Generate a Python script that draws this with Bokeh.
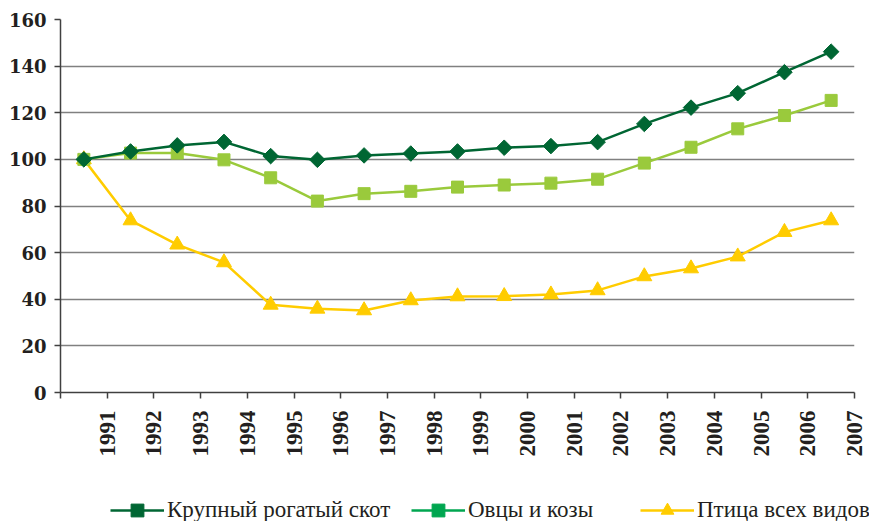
import math
from bokeh.plotting import figure
from bokeh.layouts import column, row
from bokeh.models import FixedTicker, Legend, LegendItem, Range1d
from bokeh.embed import file_html
from bokeh.resources import INLINE

years = [str(y) for y in range(1991, 2008)]
cattle = [100, 103.4, 106, 107.5, 101.4, 99.8, 101.7, 102.5, 103.4, 105, 105.7, 107.4, 115.2, 122.2, 128.4, 137.4, 146.2]
sheep = [100, 102.7, 102.7, 99.8, 92.1, 82.1, 85.3, 86.3, 88.1, 89.0, 89.8, 91.5, 98.4, 105.2, 113.1, 118.8, 125.3]
poultry = [100, 73.8, 63.4, 55.8, 37.6, 35.9, 35.2, 39.5, 41.2, 41.3, 42.0, 43.8, 49.8, 53.2, 58.3, 68.8, 73.8]
series_names = ["Крупный рогатый скот", "Овцы и козы", "Птица всех видов"]
y_ticks = [0, 20, 40, 60, 80, 100, 120, 140, 160]

xs = [i + 0.5 for i in range(len(years))]

p = figure(width=869, height=460, output_backend="svg", toolbar_location=None,
           x_range=Range1d(0, len(years)), y_range=Range1d(0, 160),
           min_border_left=60, min_border_right=15, min_border_top=19, min_border_bottom=68)
p.outline_line_color = None
p.background_fill_color = "white"
p.border_fill_color = "white"
p.xgrid.grid_line_color = None
p.ygrid.grid_line_color = "#808080"
p.ygrid.grid_line_width = 1.5
p.ygrid.ticker = FixedTicker(ticks=y_ticks)

# axes
p.xaxis.ticker = FixedTicker(ticks=list(range(len(years) + 1)))
overrides = {0: ""}
for i, yr in enumerate(years):
    overrides[i + 1] = yr
p.xaxis.major_label_overrides = overrides
p.xaxis.major_label_orientation = math.pi / 2
p.xaxis.major_label_text_font = "Liberation Serif"
p.xaxis.major_label_text_font_style = "bold"
p.xaxis.major_label_text_font_size = "23px"
p.xaxis.major_label_text_color = "#231f20"
p.xaxis.major_label_standoff = 12
p.xaxis.major_tick_out = 6
p.xaxis.major_tick_in = 0
p.xaxis.minor_tick_line_color = None

p.yaxis.ticker = FixedTicker(ticks=y_ticks)
p.yaxis.major_label_text_font = "DejaVu Serif"
p.yaxis.major_label_text_font_style = "bold"
p.yaxis.major_label_text_font_size = "18px"
p.yaxis.major_label_text_color = "#231f20"
p.yaxis.major_label_standoff = 8
p.yaxis.major_tick_out = 6
p.yaxis.major_tick_in = 0
p.yaxis.minor_tick_line_color = None

for ax in (p.xaxis, p.yaxis):
    ax.axis_line_color = "#404040"
    ax.axis_line_width = 1.5
    ax.major_tick_line_color = "#404040"
    ax.major_tick_line_width = 1.5

c_cattle = "#006633"
c_sheep = "#9ACA3C"
c_sheep_leg = "#00A650"
c_poultry = "#FFCC00"

# data
p.line(xs, poultry, line_color=c_poultry, line_width=2.5)
p.scatter(xs, poultry, marker="triangle", size=15, fill_color=c_poultry, line_color=c_poultry)
p.line(xs, sheep, line_color=c_sheep, line_width=2.5)
p.scatter(xs, sheep, marker="square", size=12, fill_color=c_sheep, line_color=c_sheep)
p.line(xs, cattle, line_color=c_cattle, line_width=2.5)
p.scatter(xs, cattle, marker="square", angle=math.pi / 4, size=11, fill_color=c_cattle, line_color=c_cattle)

# legend strip below the chart
lf = figure(width=869, height=61, output_backend="svg", toolbar_location=None,
            x_range=Range1d(0, 1), y_range=Range1d(0, 1),
            x_axis_type=None, y_axis_type=None,
            min_border_left=0, min_border_right=0, min_border_top=0, min_border_bottom=0)
lf.outline_line_color = None
lf.xgrid.visible = False
lf.ygrid.visible = False

nan = float("nan")
leg_specs = [
    (series_names[0], c_cattle, dict(marker="square", angle=math.pi / 4), 110),
    (series_names[1], c_sheep_leg, dict(marker="square"), 411),
    (series_names[2], c_poultry, dict(marker="triangle"), 640),
]
for name, col, mk, xoff in leg_specs:
    lr = lf.line([nan], [nan], line_color=col, line_width=2.5)
    sr = lf.scatter([nan], [nan], fill_color=col, line_color=col, **mk)
    leg = Legend(items=[LegendItem(label=name, renderers=[lr, sr])],
                 location=(xoff, -5), orientation="horizontal",
                 padding=0, margin=0, border_line_color=None,
                 background_fill_alpha=0, glyph_width=54, glyph_height=32,
                 label_standoff=3, label_text_font="Liberation Serif",
                 label_text_font_size="23px", label_text_color="#231f20")
    lf.add_layout(leg, "center")

layout = column(p, row(lf), spacing=0)
open("out.html", "w").write(file_html(layout, INLINE))
